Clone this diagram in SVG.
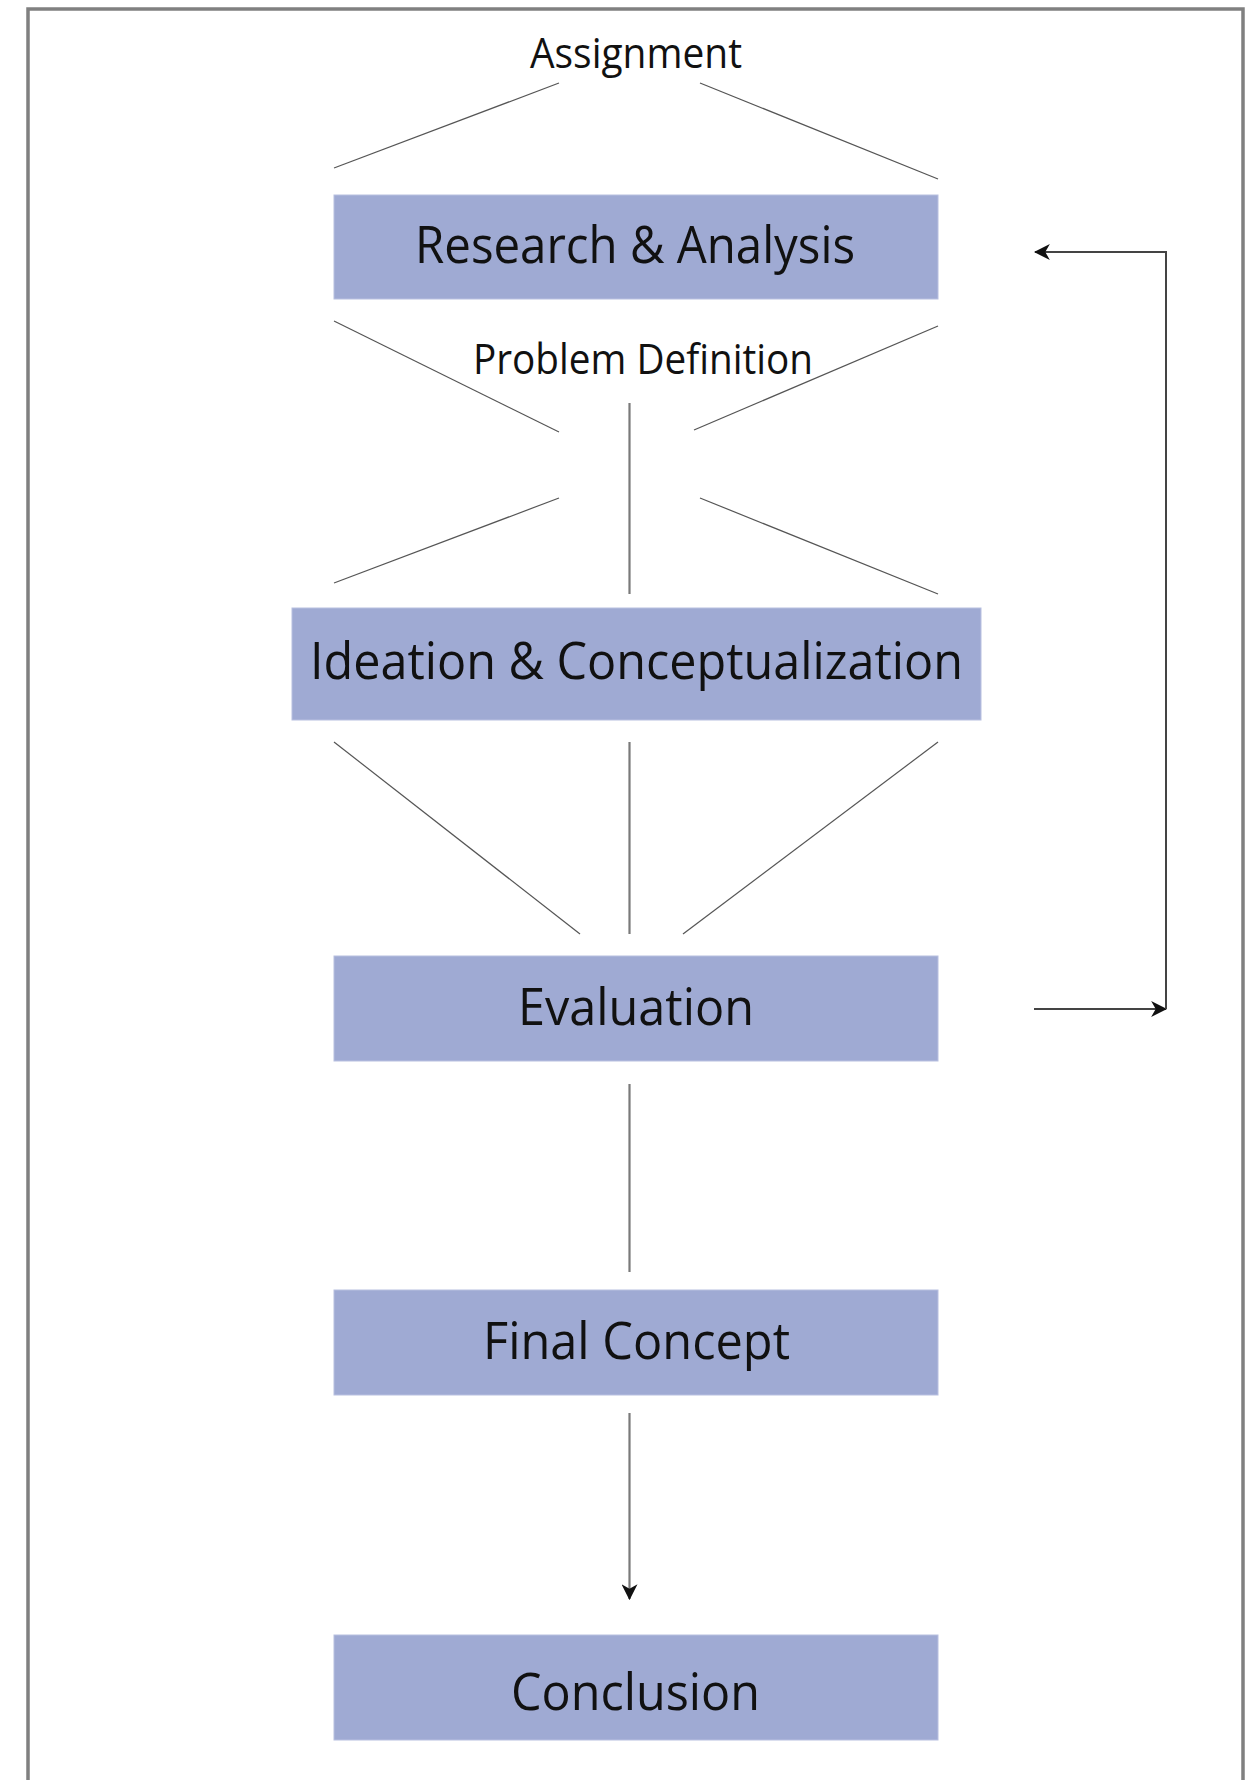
<svg xmlns="http://www.w3.org/2000/svg" width="1245" height="1780" viewBox="0 0 1245 1780">
<style>
  .box { fill: #9FAAD3; stroke: #B8C0E0; stroke-width: 1; }
  .lbl { font-family: "Open Sans", "Noto Sans", "Liberation Sans", sans-serif; fill: #111; }
  .big { font-size: 52px; }
  .small { font-size: 42px; }
  .diag { stroke: #555; stroke-width: 1.2; fill: none; }
  .vert { stroke: #7a7a7a; stroke-width: 2.2; fill: none; }
  .arrow { stroke: #444; stroke-width: 2; fill: none; }
</style>
<defs>
  <marker id="ah" markerUnits="userSpaceOnUse" markerWidth="16" markerHeight="16" viewBox="0 0 14 14" refX="13" refY="7" orient="auto">
    <path d="M0,0 L14,7 L0,14 L4,7 z" fill="#111"/>
  </marker>
</defs>
<rect x="0" y="0" width="1245" height="1780" fill="#fff"/>
<path d="M28,1780 V9 H1243 V1780" fill="none" stroke="#808080" stroke-width="3.5"/>

<g id="connectors">
  <line class="diag" x1="559" y1="83" x2="334" y2="168"/>
  <line class="diag" x1="700" y1="83" x2="938" y2="179"/>
  <line class="diag" x1="334" y1="321" x2="559" y2="432"/>
  <line class="diag" x1="938" y1="326" x2="694" y2="430"/>
  <line class="vert" x1="629.5" y1="403" x2="629.5" y2="594"/>
  <line class="diag" x1="559" y1="498" x2="334" y2="583"/>
  <line class="diag" x1="700" y1="498" x2="938" y2="594"/>
  <line class="diag" x1="334" y1="742" x2="580" y2="934"/>
  <line class="vert" x1="629.5" y1="742" x2="629.5" y2="934"/>
  <line class="diag" x1="938" y1="742" x2="683" y2="934"/>
  <line class="vert" x1="629.5" y1="1084" x2="629.5" y2="1272"/>
  <line class="vert" x1="629.5" y1="1413" x2="629.5" y2="1599" marker-end="url(#ah)"/>
  <path class="arrow" d="M1034,1009 H1166" marker-end="url(#ah)"/>
  <path class="arrow" d="M1166,1009 V252 H1035" marker-end="url(#ah)"/>
</g>

<g id="assignment">
  <text class="lbl small" x="530" y="68" textLength="212" lengthAdjust="spacingAndGlyphs">Assignment</text>
</g>
<g id="research">
  <rect class="box" x="334" y="195" width="604" height="104"/>
  <text class="lbl big" x="415" y="263" textLength="440" lengthAdjust="spacingAndGlyphs">Research &amp; Analysis</text>
</g>
<g id="problem">
  <text class="lbl small" x="473" y="374" textLength="340" lengthAdjust="spacingAndGlyphs">Problem Definition</text>
</g>
<g id="ideation">
  <rect class="box" x="292" y="608" width="689" height="112"/>
  <text class="lbl big" x="310" y="679" textLength="653" lengthAdjust="spacingAndGlyphs">Ideation &amp; Conceptualization</text>
</g>
<g id="evaluation">
  <rect class="box" x="334" y="956" width="604" height="105"/>
  <text class="lbl big" x="518" y="1025" textLength="236" lengthAdjust="spacingAndGlyphs">Evaluation</text>
</g>
<g id="final">
  <rect class="box" x="334" y="1290" width="604" height="105"/>
  <text class="lbl big" x="483" y="1359" textLength="307" lengthAdjust="spacingAndGlyphs">Final Concept</text>
</g>
<g id="conclusion">
  <rect class="box" x="334" y="1635" width="604" height="105"/>
  <text class="lbl big" x="511" y="1710" textLength="249" lengthAdjust="spacingAndGlyphs">Conclusion</text>
</g>
</svg>
